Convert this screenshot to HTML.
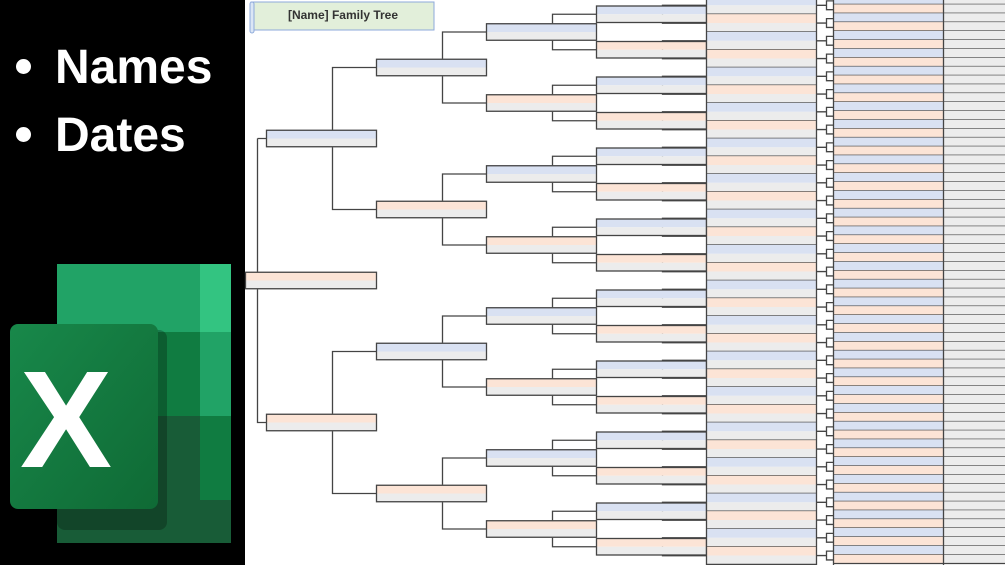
<!DOCTYPE html>
<html><head><meta charset="utf-8">
<style>
html,body{margin:0;padding:0;width:1005px;height:565px;overflow:hidden;background:#fff}
#left{position:absolute;left:0;top:0;width:245px;height:565px;background:#000}
.lbl{position:absolute;left:10px;color:#fff;font:bold 48px "Liberation Sans",sans-serif;white-space:nowrap}
.dot{display:inline-block;width:15px;height:15px;border-radius:50%;background:#fff;margin:0 24px 0 6px;vertical-align:middle;position:relative;top:-4px}
svg{position:absolute;left:0;top:0}
</style></head><body>
<div id="left">
<div class="lbl" style="top:40px"><span class="dot"></span>Names</div>
<div class="lbl" style="top:108px"><span class="dot"></span>Dates</div>
</div>
<svg id="s" width="1005" height="565" xmlns="http://www.w3.org/2000/svg">
<defs>
<linearGradient id="g" x1="0" y1="0" x2="1" y2="1"><stop offset="0" stop-color="#18884a"/><stop offset="1" stop-color="#0f6a35"/></linearGradient>
</defs>
<rect x="57" y="264" width="174" height="68" fill="#21a366"/>
<rect x="200" y="264" width="31" height="68" fill="#33c481"/>
<rect x="57" y="332" width="174" height="84" fill="#107c41"/>
<rect x="200" y="332" width="31" height="84" fill="#21a366"/>
<rect x="57" y="416" width="174" height="127" fill="#185c37"/>
<rect x="200" y="416" width="31" height="84" fill="#107c41"/>
<rect x="57" y="330" width="110" height="200" rx="8" fill="#000" opacity="0.25"/>
<rect x="10" y="324" width="148" height="185" rx="8" fill="url(#g)"/>
<text x="66" y="467" text-anchor="middle" fill="#fff" font-family="Liberation Sans,sans-serif" font-weight="bold" font-size="138">X</text>
<rect x="251" y="2" width="183" height="28" fill="#e2efda" stroke="#8eaadb" stroke-width="1"/>
<rect x="250" y="2" width="4" height="31" rx="2" fill="#dbe6f5" stroke="#8eaadb"/>
<text x="343" y="19" text-anchor="middle" font-family="Liberation Sans,sans-serif" font-weight="bold" font-size="12" fill="#333">[Name] Family Tree</text>
<g id="t" stroke="#444" stroke-width="1.3" fill="none"></g>
</svg>
<script>
var t=document.getElementById('t'),NS='http://www.w3.org/2000/svg';
var B='#d9e1f2',O='#fce4d6',G='#ececec';
function r(x,y,w,h,f,st){var e=document.createElementNS(NS,'rect');e.setAttribute('x',x);e.setAttribute('y',y);e.setAttribute('width',w);e.setAttribute('height',h);e.setAttribute('fill',f);e.setAttribute('stroke',st||'none');t.appendChild(e);}
function p(d){var e=document.createElementNS(NS,'path');e.setAttribute('d',d);t.appendChild(e);}
function box(x,w,c,col){var h=17.5,y=c-h/2;r(x,y,w,h/2,col);r(x,y+h/2,w,h/2,G);r(x+.5,y+.5,w,h-1,'none','#444');}
p('M257.5 138.5V422.5H266M257.5 138.5H266');
function br(x,c1,c2,x2){p('M'+x2+' '+c1+'H'+x+'V'+c2+'H'+x2);}
br(332.5,67.5,209.5,376);br(332.5,351.5,493.5,376);
for(var i=0;i<4;i++){var c=67.5+142*i;br(442.5,c-35.5,c+35.5,486);}
for(var i=0;i<8;i++){var c=32+71*i;br(552.5,c-17.75,c+17.75,596);}
for(var i=0;i<16;i++){var c=14.25+35.5*i;br(662.5,c-9,c+9,706);}
box(245,131,280.5,O);
box(266,110,138.5,B);box(266,110,422.5,O);
for(var i=0;i<4;i++)box(376,110,67.5+142*i,i%2?O:B);
for(var i=0;i<8;i++)box(486,110,32+71*i,i%2?O:B);
for(var i=0;i<16;i++)box(596,110,14.25+35.5*i,i%2?O:B);
for(var i=0;i<32;i++){var y=i*17.75-3.6;r(706,y,110,8.9,i%2?O:B);r(706,y+8.9,110,8.85,G);p('M706 '+(y+17.75)+'H816');}
p('M706.5 0V565M816.5 0V565');
for(var i=0;i<64;i++){var y=i*8.875-4.5;r(833,y,110,8.875,i%2?O:B);r(943,y,62,8.875,G);p('M833 '+(y+8.875)+'H1005');}
p('M833.5 0V565M943.5 0V565');
for(var i=0;i<32;i++){var c=i*17.75-3.6+8.9;var a=c-4.4,b=c+4.4;p('M816 '+c+'H826.5M833 '+a+'H826.5V'+b+'H833');}
</script>
</body></html>
